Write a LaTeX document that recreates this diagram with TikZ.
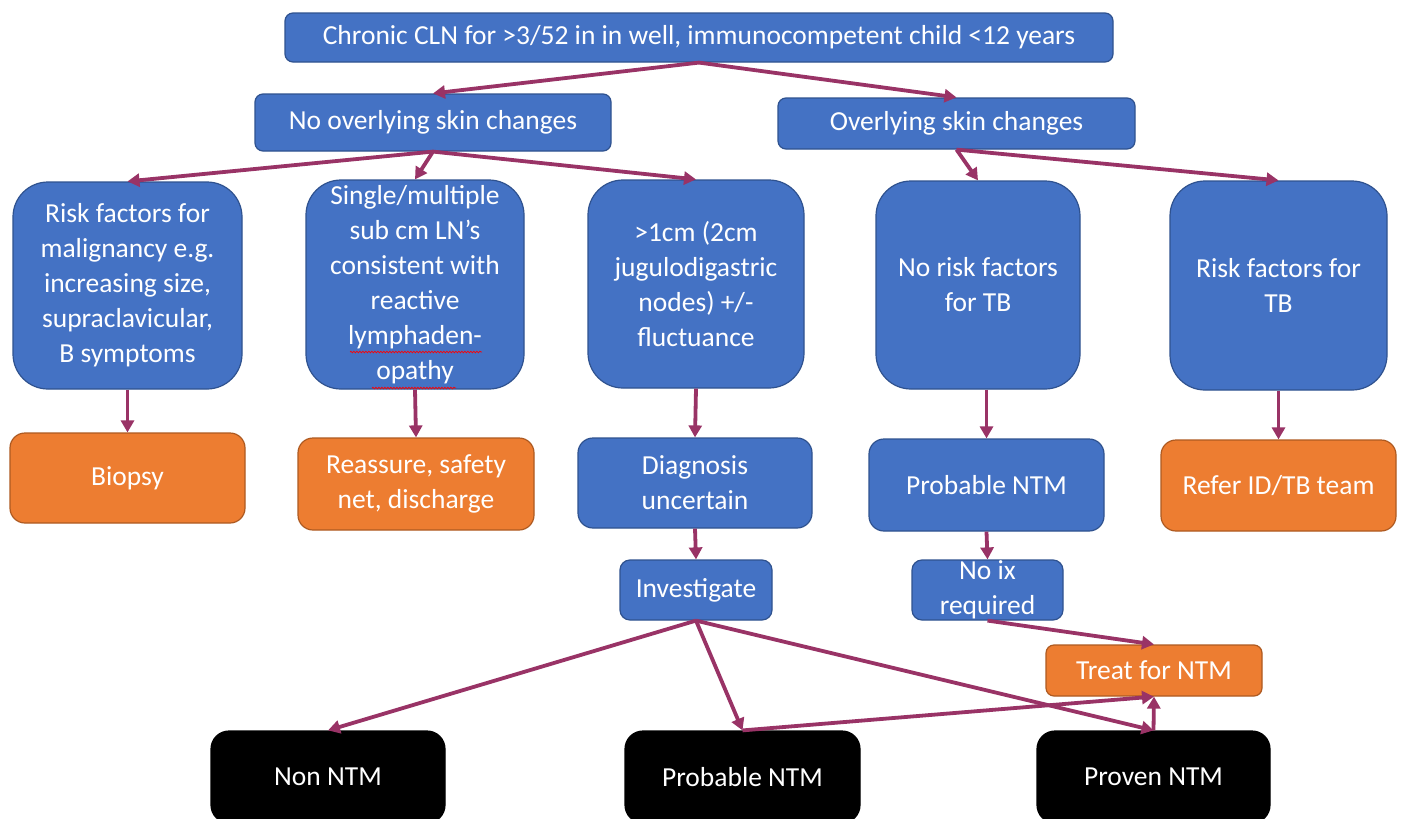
\documentclass[tikz,border=0pt]{standalone}
\usepackage{fontspec}
\setmainfont{Carlito}
\usetikzlibrary{arrows.meta,decorations.pathmorphing}
\definecolor{boxblue}{HTML}{4472C4}
\definecolor{blueedge}{HTML}{2F528F}
\definecolor{boxorange}{HTML}{ED7D31}
\definecolor{orangeedge}{HTML}{AE5A21}
\definecolor{arrowcol}{HTML}{993366}
\begin{document}
\begin{tikzpicture}[x=1pt,y=-1pt,
 base/.style={draw, line width=1.2pt, text=white, align=center, inner sep=0pt, font=\fontsize{27.5}{35}\selectfont},
 bluebox/.style={base, fill=boxblue, draw=blueedge},
 orangebox/.style={base, fill=boxorange, draw=orangeedge},
 blackbox/.style={base, fill=black, draw=black},
 arr/.style={draw=arrowcol, line width=3.8pt, -{Triangle[length=12pt,width=13pt]}},
 spell/.style={draw=red, line width=0.7pt, decorate, decoration={snake, segment length=3pt, amplitude=0.8pt}},
]
\useasboundingbox (0,0) rectangle (1403,819);
\clip (0,0) rectangle (1403,819);
\fill[white] (0,0) rectangle (1403,819);

\node[bluebox, rounded corners=8pt, minimum width=828pt, minimum height=49pt] (top) at (699,37.5) {Chronic CLN for >3/52 in in well, immunocompetent child <12 years};
\node[bluebox, rounded corners=8pt, minimum width=356pt, minimum height=57pt] (nover) at (433,122.5) {No overlying skin changes};
\node[bluebox, rounded corners=8pt, minimum width=357pt, minimum height=51pt] (over) at (956.5,123.5) {Overlying skin changes};

\node[bluebox, rounded corners=35pt, minimum width=229pt, minimum height=207pt] (riskmal) at (127.5,285.5) {Risk factors for\\malignancy e.g.\\increasing size,\\supraclavicular,\\B symptoms};
\node[bluebox, rounded corners=35pt, minimum width=218pt, minimum height=209pt] (single) at (415,284.5) {Single/multiple\\sub cm LN’s\\consistent with\\reactive\\lymphaden-\\opathy};
\node[bluebox, rounded corners=35pt, minimum width=216pt, minimum height=208pt] (gt) at (696,284) {>1cm (2cm\\jugulodigastric\\nodes) +/-\\fluctuance};
\node[bluebox, rounded corners=35pt, minimum width=204pt, minimum height=208pt] (norisk) at (978,285) {No risk factors\\for TB};
\node[bluebox, rounded corners=35pt, minimum width=217pt, minimum height=209pt] (risktb) at (1278.5,285.5) {Risk factors for\\TB};

\node[orangebox, rounded corners=15pt, minimum width=235pt, minimum height=90pt] (biopsy) at (127.5,478) {Biopsy};
\node[orangebox, rounded corners=15pt, minimum width=236pt, minimum height=92pt] (reassure) at (416,484) {Reassure, safety\\net, discharge};
\node[bluebox, rounded corners=15pt, minimum width=234pt, minimum height=90pt] (diag) at (695,483) {Diagnosis\\uncertain};
\node[bluebox, rounded corners=15pt, minimum width=235pt, minimum height=92pt] (probb) at (986.5,485) {Probable NTM};
\node[orangebox, rounded corners=15pt, minimum width=235pt, minimum height=91pt] (refer) at (1278.5,485.5) {Refer ID/TB team};

\node[bluebox, rounded corners=10pt, minimum width=152pt, minimum height=60pt] (invest) at (696,590) {Investigate};
\node[bluebox, rounded corners=10pt, minimum width=151pt, minimum height=60pt] (noix) at (987.5,590) {No ix\\required};
\node[orangebox, rounded corners=8pt, minimum width=216pt, minimum height=51pt] (treat) at (1154,670.5) {Treat for NTM};

\node[blackbox, rounded corners=18pt, minimum width=234pt, minimum height=92pt] (non) at (328,777) {Non NTM};
\node[blackbox, rounded corners=18pt, minimum width=235pt, minimum height=92pt] (probk) at (742.5,777) {Probable NTM};
\node[blackbox, rounded corners=18pt, minimum width=233pt, minimum height=92pt] (proven) at (1153.5,777) {Proven NTM};

\draw[spell] (350,352) -- (482,352);
\draw[spell] (372,388) -- (456,388);

\draw[arr] (top.south) -- (nover.north);
\draw[arr] (top.south) -- (over.north);
\draw[arr] (nover.south) -- (riskmal.north);
\draw[arr] (nover.south) -- (single.north);
\draw[arr] (nover.south) -- (gt.north);
\draw[arr] (over.south) -- (norisk.north);
\draw[arr] (over.south) -- (risktb.north);
\draw[arr] (riskmal.south) -- (biopsy.north);
\draw[arr] (single.south) -- (reassure.north);
\draw[arr] (gt.south) -- (diag.north);
\draw[arr] (norisk.south -| probb.north) -- (probb.north);
\draw[arr] (risktb.south) -- (refer.north);
\draw[arr] (diag.south) -- (invest.north);
\draw[arr] (probb.south) -- (noix.north);
\draw[arr] (noix.south) -- (treat.north);
\draw[arr] (invest.south) -- (non.north);
\draw[arr] (invest.south) -- (probk.north);
\draw[arr] (invest.south) -- (proven.north);
\draw[arr] (probk.north) -- (treat.south);
\draw[arr] (proven.north) -- (treat.south);
\end{tikzpicture}
\end{document}
